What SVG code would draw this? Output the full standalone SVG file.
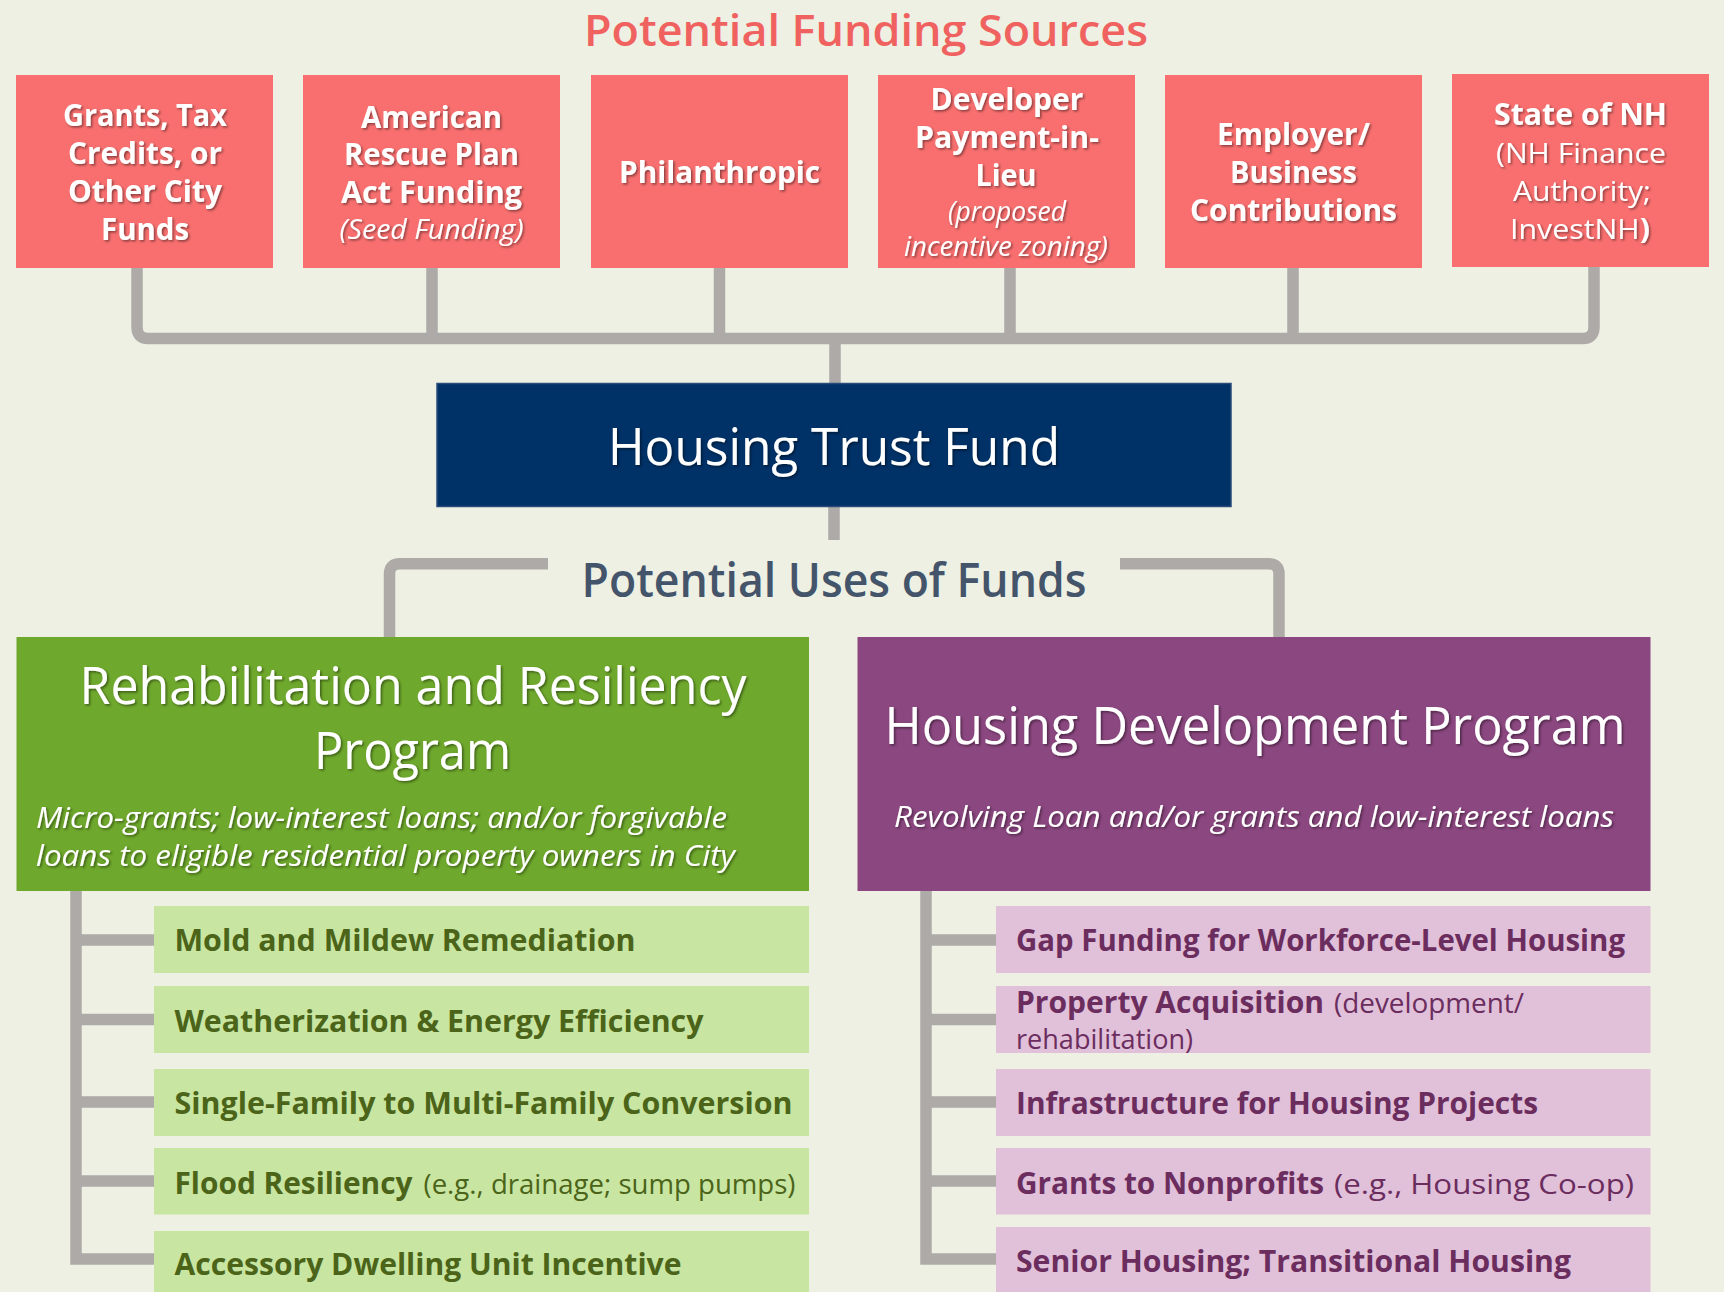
<svg xmlns="http://www.w3.org/2000/svg" width="1724" height="1292" viewBox="0 0 1724 1292">
<defs>
<filter id="sh" x="-10%" y="-30%" width="120%" height="160%">
<feDropShadow dx="1.5" dy="1.5" stdDeviation="1" flood-color="#000" flood-opacity="0.45"/>
</filter>
<style>
text{font-family:"Open Sans","Noto Sans","DejaVu Sans",sans-serif}
.src{fill:#F96F6F}
.st{fill:#fff;font-weight:700;font-size:30px;text-anchor:middle}
.si{fill:#fff;font-style:italic;font-size:27px;text-anchor:middle}
.sr{fill:#fff;font-size:28px;text-anchor:middle}
.con{fill:none;stroke:#ADAAA8;stroke-width:11.5}
.gi{fill:#C8E6A1}
.pi{fill:#E1C0D9}
.gt{fill:#4B6419;font-weight:700;font-size:29.5px}
.gr{fill:#4B6419;font-size:28px}
.pt{fill:#6B2D5E;font-weight:700;font-size:29.5px}
.pr{fill:#6B2D5E;font-size:28px}
.big{fill:#fff;font-size:51px;text-anchor:middle}
.desc{fill:#fff;font-style:italic;font-size:29px}
</style>
</defs>
<rect width="1724" height="1292" fill="#EDF0E3"/>

<text x="866" y="46" font-size="43" font-weight="600" fill="#F0625F" text-anchor="middle" textLength="564" lengthAdjust="spacingAndGlyphs">Potential Funding Sources</text>

<g id="connectors">
<path class="con" d="M137,267 L137,327 Q137,338.5 148.5,338.5 L1582.5,338.5 Q1594,338.5 1594,327 L1594,266"/>
<line class="con" x1="432" y1="267" x2="432" y2="338"/>
<line class="con" x1="719.5" y1="267" x2="719.5" y2="338"/>
<line class="con" x1="1010" y1="267" x2="1010" y2="338"/>
<line class="con" x1="1293" y1="267" x2="1293" y2="338"/>
<line class="con" x1="835" y1="338" x2="835" y2="384"/>
<line class="con" x1="834" y1="506" x2="834" y2="540"/>
<path class="con" d="M548,563.7 L400,563.7 Q389.5,563.7 389.5,574 L389.5,637"/>
<path class="con" d="M1120,563.7 L1268.5,563.7 Q1279,563.7 1279,574 L1279,637"/>
<path class="con" d="M76,890 L76,1259 L154,1259"/>
<line class="con" x1="76" y1="940" x2="154" y2="940"/>
<line class="con" x1="76" y1="1019.5" x2="154" y2="1019.5"/>
<line class="con" x1="76" y1="1102" x2="154" y2="1102"/>
<line class="con" x1="76" y1="1181" x2="154" y2="1181"/>
<path class="con" d="M926,890 L926,1259 L996,1259"/>
<line class="con" x1="926" y1="940" x2="996" y2="940"/>
<line class="con" x1="926" y1="1019.5" x2="996" y2="1019.5"/>
<line class="con" x1="926" y1="1102" x2="996" y2="1102"/>
<line class="con" x1="926" y1="1181" x2="996" y2="1181"/>
</g>

<g id="src1">
<rect class="src" x="16" y="75" width="257" height="193"/>
<g filter="url(#sh)">
<text class="st" x="145" y="126" textLength="164" lengthAdjust="spacingAndGlyphs">Grants, Tax</text>
<text class="st" x="145" y="164" textLength="154" lengthAdjust="spacingAndGlyphs">Credits, or</text>
<text class="st" x="145" y="202" textLength="154" lengthAdjust="spacingAndGlyphs">Other City</text>
<text class="st" x="145" y="240" textLength="88" lengthAdjust="spacingAndGlyphs">Funds</text>
</g>
</g>

<g id="src2">
<rect class="src" x="303" y="75" width="257" height="193"/>
<g filter="url(#sh)">
<text class="st" x="431.5" y="128" textLength="141" lengthAdjust="spacingAndGlyphs">American</text>
<text class="st" x="431.5" y="165" textLength="175" lengthAdjust="spacingAndGlyphs">Rescue Plan</text>
<text class="st" x="431.5" y="203" textLength="181" lengthAdjust="spacingAndGlyphs">Act Funding</text>
<text class="si" x="431.5" y="239" textLength="184" lengthAdjust="spacingAndGlyphs">(Seed Funding)</text>
</g>
</g>

<g id="src3">
<rect class="src" x="591" y="75" width="257" height="193"/>
<g filter="url(#sh)">
<text class="st" x="719.5" y="183" textLength="201" lengthAdjust="spacingAndGlyphs">Philanthropic</text>
</g>
</g>

<g id="src4">
<rect class="src" x="878" y="75" width="257" height="193"/>
<g filter="url(#sh)">
<text class="st" x="1007" y="110" textLength="153" lengthAdjust="spacingAndGlyphs">Developer</text>
<text class="st" x="1007" y="148" textLength="184" lengthAdjust="spacingAndGlyphs">Payment-in-</text>
<text class="st" x="1006" y="186" textLength="61" lengthAdjust="spacingAndGlyphs">Lieu</text>
<text class="si" x="1007" y="221" textLength="118" lengthAdjust="spacingAndGlyphs">(proposed</text>
<text class="si" x="1006" y="256" textLength="204" lengthAdjust="spacingAndGlyphs">incentive zoning)</text>
</g>
</g>

<g id="src5">
<rect class="src" x="1165" y="75" width="257" height="193"/>
<g filter="url(#sh)">
<text class="st" x="1293.5" y="145" textLength="153" lengthAdjust="spacingAndGlyphs">Employer/</text>
<text class="st" x="1293.5" y="183" textLength="127" lengthAdjust="spacingAndGlyphs">Business</text>
<text class="st" x="1293.5" y="221" textLength="207" lengthAdjust="spacingAndGlyphs">Contributions</text>
</g>
</g>

<g id="src6">
<rect class="src" x="1452" y="74" width="257" height="193"/>
<g filter="url(#sh)">
<text class="st" x="1580.5" y="125" textLength="173" lengthAdjust="spacingAndGlyphs">State of NH</text>
<text class="sr" x="1581" y="163" textLength="170" lengthAdjust="spacingAndGlyphs">(NH Finance</text>
<text class="sr" x="1582" y="201" textLength="138" lengthAdjust="spacingAndGlyphs">Authority;</text>
<text class="sr" x="1580" y="239" textLength="140" lengthAdjust="spacingAndGlyphs">InvestNH<tspan font-weight="700">)</tspan></text>
</g>
</g>

<g id="htf">
<rect x="437" y="383.5" width="794" height="123" fill="#003167" stroke="#2A4C7A" stroke-width="1.5"/>
<text x="834" y="465" font-size="52" fill="#fff" text-anchor="middle" filter="url(#sh)" textLength="452" lengthAdjust="spacingAndGlyphs">Housing Trust Fund</text>
</g>

<text x="834" y="597" font-size="47" font-weight="600" fill="#44546A" text-anchor="middle" textLength="505" lengthAdjust="spacingAndGlyphs">Potential Uses of Funds</text>

<g id="rehab">
<rect x="16.5" y="637" width="792.5" height="254" fill="#6EA82C"/>
<g filter="url(#sh)">
<text class="big" x="413" y="704" textLength="667" lengthAdjust="spacingAndGlyphs">Rehabilitation and Resiliency</text>
<text class="big" x="412.5" y="769" textLength="197" lengthAdjust="spacingAndGlyphs">Program</text>
<text class="desc" x="36" y="828" textLength="691" lengthAdjust="spacingAndGlyphs">Micro-grants; low-interest loans; and/or forgivable</text>
<text class="desc" x="36" y="866" textLength="699" lengthAdjust="spacingAndGlyphs">loans to eligible residential property owners in City</text>
</g>
</g>

<g id="housingdev">
<rect x="857.5" y="637" width="793" height="254" fill="#8B4780"/>
<g filter="url(#sh)">
<text class="big" x="1255" y="744" textLength="741" lengthAdjust="spacingAndGlyphs">Housing Development Program</text>
<text class="desc" x="1254" y="826.5" text-anchor="middle" textLength="720" lengthAdjust="spacingAndGlyphs">Revolving Loan and/or grants and low-interest loans</text>
</g>
</g>

<g id="g1"><rect class="gi" x="154" y="906" width="655" height="67"/>
<text class="gt" x="174.5" y="951" textLength="461" lengthAdjust="spacingAndGlyphs">Mold and Mildew Remediation</text></g>
<g id="g2"><rect class="gi" x="154" y="986" width="655" height="67"/>
<text class="gt" x="174.5" y="1031.5" textLength="529" lengthAdjust="spacingAndGlyphs">Weatherization &amp; Energy Efficiency</text></g>
<g id="g3"><rect class="gi" x="154" y="1069" width="655" height="67"/>
<text class="gt" x="174.5" y="1113.5" textLength="618" lengthAdjust="spacingAndGlyphs">Single-Family to Multi-Family Conversion</text></g>
<g id="g4"><rect class="gi" x="154" y="1148" width="655" height="66.5"/>
<text class="gt" x="174.5" y="1193.5" textLength="238" lengthAdjust="spacingAndGlyphs">Flood Resiliency</text>
<text class="gr" x="423.5" y="1193.5" textLength="372" lengthAdjust="spacingAndGlyphs">(e.g., drainage; sump pumps)</text></g>
<g id="g5"><rect class="gi" x="154" y="1231" width="655" height="70"/>
<text class="gt" x="174.5" y="1275" textLength="507" lengthAdjust="spacingAndGlyphs">Accessory Dwelling Unit Incentive</text></g>

<g id="p1"><rect class="pi" x="996" y="906" width="654.5" height="67"/>
<text class="pt" x="1016" y="951" textLength="609" lengthAdjust="spacingAndGlyphs">Gap Funding for Workforce-Level Housing</text></g>
<g id="p2"><rect class="pi" x="996" y="986" width="654.5" height="67"/>
<text class="pt" x="1016" y="1012.5" textLength="308" lengthAdjust="spacingAndGlyphs">Property Acquisition</text>
<text class="pr" x="1334" y="1012.5" textLength="190" lengthAdjust="spacingAndGlyphs">(development/</text>
<text class="pr" x="1016" y="1048.5" textLength="177" lengthAdjust="spacingAndGlyphs">rehabilitation)</text></g>
<g id="p3"><rect class="pi" x="996" y="1069" width="654.5" height="67"/>
<text class="pt" x="1016" y="1113.5" textLength="522" lengthAdjust="spacingAndGlyphs">Infrastructure for Housing Projects</text></g>
<g id="p4"><rect class="pi" x="996" y="1148" width="654.5" height="66.5"/>
<text class="pt" x="1016" y="1193.5" textLength="308" lengthAdjust="spacingAndGlyphs">Grants to Nonprofits</text>
<text class="pr" x="1334" y="1193.5" textLength="300" lengthAdjust="spacingAndGlyphs">(e.g., Housing Co-op)</text></g>
<g id="p5"><rect class="pi" x="996" y="1227" width="654.5" height="74"/>
<text class="pt" x="1016" y="1272" textLength="555" lengthAdjust="spacingAndGlyphs">Senior Housing; Transitional Housing</text></g>
</svg>
